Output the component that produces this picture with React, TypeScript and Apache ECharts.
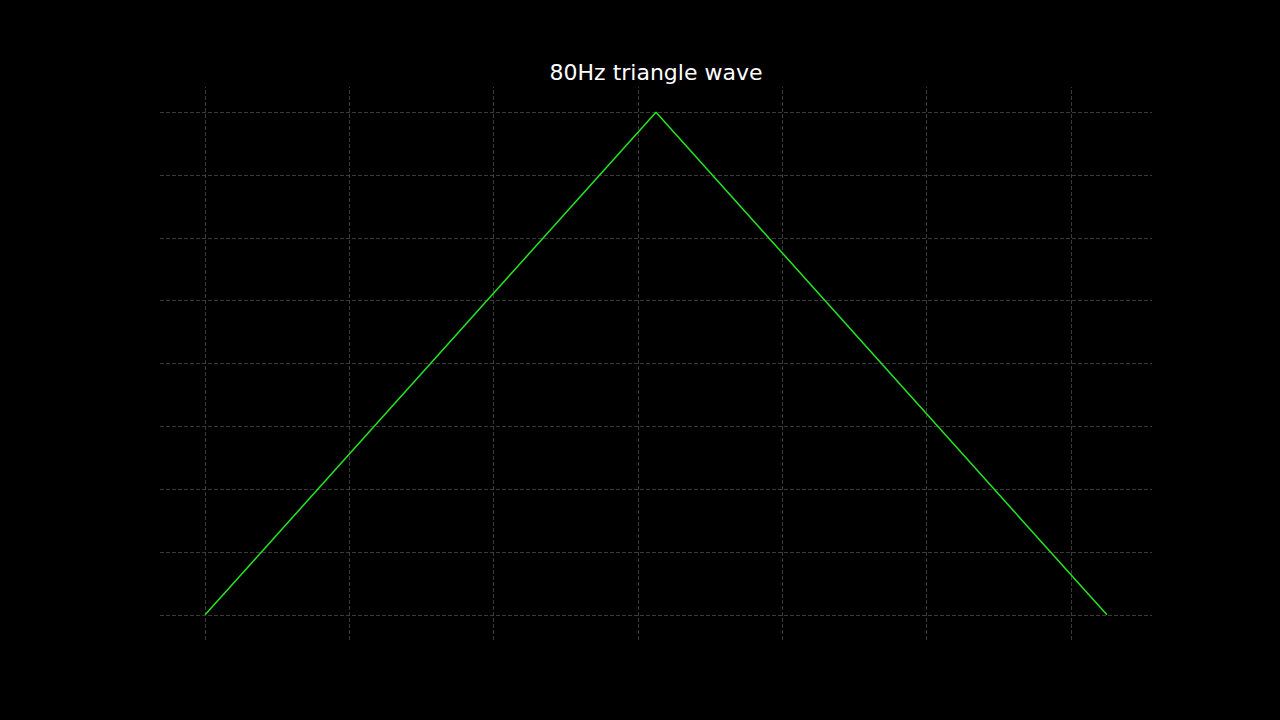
import React, { useEffect, useRef } from "react";
import * as echarts from "echarts";

const titleText = "80Hz triangle wave";
const timeMs = [0, 6.25, 12.5];
const amplitude = [-1, 1, -1];
const xGridTicks = [0, 2, 4, 6, 8, 10, 12];
const yGridTicks = [-1, -0.75, -0.5, -0.25, 0, 0.25, 0.5, 0.75, 1];

export default function App() {
  const ref = useRef<HTMLDivElement>(null);
  useEffect(() => {
    document.body.style.margin = "0";
    document.body.style.background = "#000";
    if (!ref.current) return;
    const chart = echarts.init(ref.current, undefined, { renderer: "svg" });
    const gridLineStyle = { color: "#484848", width: 0.8, type: [4, 2] as any };
    const markData = [
      ...xGridTicks.map((v) => ({ xAxis: v })),
      ...yGridTicks.map((v) => ({ yAxis: v })),
    ];
    chart.setOption({
      animation: false,
      backgroundColor: "#000000",
      title: {
        text: titleText,
        left: 651,
        top: 56,
        textAlign: "center",
        textStyle: {
          color: "#ffffff",
          fontSize: 22,
          fontWeight: "normal",
          fontFamily: "DejaVu Sans",
        },
      },
      grid: { left: 160, right: 128, top: 87, bottom: 80 },
      xAxis: {
        type: "value",
        min: -0.625,
        max: 13.125,
        show: false,
        splitLine: { show: false },
      },
      yAxis: {
        type: "value",
        min: -1.1,
        max: 1.1,
        show: false,
        splitLine: { show: false },
      },
      series: [
        {
          type: "line",
          data: timeMs.map((t, i) => [t, amplitude[i]]),
          showSymbol: false,
          symbol: "none",
          lineStyle: { color: "#22e622", width: 1.5 },
          z: 3,
          markLine: {
            silent: true,
            symbol: ["none", "none"],
            label: { show: false },
            lineStyle: gridLineStyle,
            data: markData,
            z: 1,
          },
        },
      ],
    });
    return () => chart.dispose();
  }, []);
  return <div ref={ref} style={{ width: 1280, height: 720, background: "#000" }} />;
}
